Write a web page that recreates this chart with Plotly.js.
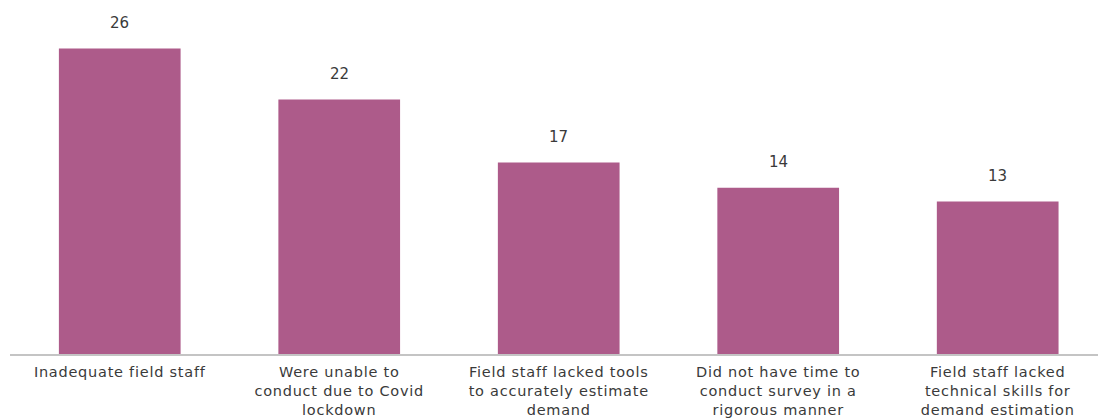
<!DOCTYPE html>
<html>
<head>
<meta charset="utf-8">
<script src="https://cdn.plot.ly/plotly-3.0.1.min.js"></script>
<style>
html,body{margin:0;padding:0;background:#fff;}
#chart{width:1098px;height:419px;}
#chart .xtick text{letter-spacing:0.75px;}
</style>
</head>
<body>
<div id="chart"></div>
<script>
var categories = [
  "Inadequate field staff",
  "Were unable to<br>conduct due to Covid<br>lockdown",
  "Field staff lacked tools<br>to accurately estimate<br>demand",
  "Did not have time to<br>conduct survey in a<br>rigorous manner",
  "Field staff lacked<br>technical skills for<br>demand estimation"
];
var values = [26, 21.66, 16.3, 14.14, 12.98];
var valueLabels = ["26", "22", "17", "14", "13"];

var barColor = "#ad5b8a";
var textColor = "#3a3a3a";
var fontFamily = "'DejaVu Sans', 'Open Sans', sans-serif";

var trace = {
  type: "bar",
  x: categories,
  y: values,
  marker: {color: barColor},
  hoverinfo: "none"
};

var annotations = categories.map(function (c, i) {
  return {
    x: c, y: values[i], xref: "x", yref: "y",
    text: valueLabels[i], showarrow: false,
    yanchor: "bottom", yshift: 15,
    font: {family: fontFamily, size: 15, color: textColor}
  };
});

var layout = {
  width: 1098, height: 419,
  margin: {l: 10, r: 0, t: 10, b: 65, pad: 0},
  paper_bgcolor: "#ffffff", plot_bgcolor: "#ffffff",
  bargap: 0.4455,
  showlegend: false,
  xaxis: {
    type: "category",
    range: [-0.5, 4.457],
    showline: true, linecolor: "#c4c4c4", linewidth: 1.5,
    ticks: "", showgrid: false, zeroline: false,
    ticklabelstandoff: 4,
    tickfont: {family: fontFamily, size: 14.5, color: textColor},
    automargin: false
  },
  yaxis: {
    range: [0, 29.28],
    visible: false, showgrid: false, zeroline: false
  },
  annotations: annotations
};

Plotly.newPlot("chart", [trace], layout, {displayModeBar: false, staticPlot: true});
</script>
</body>
</html>
